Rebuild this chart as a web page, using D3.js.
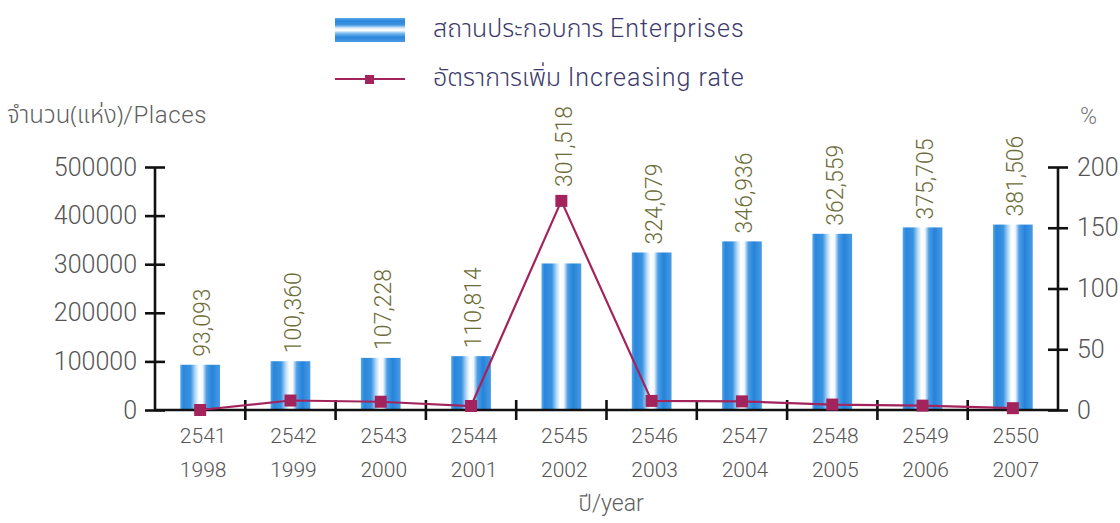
<!DOCTYPE html>
<html>
<head>
<meta charset="utf-8">
<script src="https://cdn.jsdelivr.net/npm/d3@7"></script>
<style>
  html, body { margin: 0; padding: 0; background: #ffffff; }
  svg { display: block; }
  text { font-family: Roboto, "Liberation Sans", Arial, "Noto Sans", sans-serif; font-weight: 300; }
  .thai { font-family: "Noto Sans Thai", "Noto Sans Thai UI", "Noto Sans", sans-serif; font-weight: 300; letter-spacing: 0; }
</style>
</head>
<body>
<svg id="chart" width="1120" height="523"></svg>
<script>
// Establishments by year (Buddhist era / Gregorian) and the yearly increase rate
const yearsBE = ["2541", "2542", "2543", "2544", "2545", "2546", "2547", "2548", "2549", "2550"];
const yearsCE = ["1998", "1999", "2000", "2001", "2002", "2003", "2004", "2005", "2006", "2007"];
const enterprises = [93093, 100360, 107228, 110814, 301518, 324079, 346936, 362559, 375705, 381506];
const increaseRate = [0, 7.8, 6.8, 3.3, 172.1, 7.5, 7.1, 4.5, 3.6, 1.5];
const leftTicks = [0, 100000, 200000, 300000, 400000, 500000];
const rightTicks = [0, 50, 100, 150, 200];

const svg = d3.select("#chart");
const plot = { left: 155, right: 1058, top: 167, bottom: 410 };

const x = d3.scaleBand()
  .domain(yearsCE)
  .range([plot.left, plot.right])
  .paddingInner(0.56)
  .paddingOuter(0.28);

const yLeft = d3.scaleLinear().domain([0, 500000]).range([plot.bottom, plot.top]);
const yRight = d3.scaleLinear().domain([0, 200]).range([plot.bottom, plot.top]);

// Bar fill: blue edges with a white highlight down the middle
const defs = svg.append("defs");
const grad = defs.append("linearGradient")
  .attr("id", "barFill").attr("x1", "0").attr("x2", "1").attr("y1", "0").attr("y2", "0");
[
  [0, "#5aa9ea"], [0.08, "#2a86dc"], [0.26, "#3a93e0"], [0.38, "#b5daf8"],
  [0.47, "#ffffff"], [0.56, "#f4f9fe"], [0.66, "#4c9de4"], [0.8, "#2583da"], [1, "#4a9be3"]
].forEach(([o, c]) => grad.append("stop").attr("offset", o).attr("stop-color", c));

const legendGrad = defs.append("linearGradient")
  .attr("id", "legendFill").attr("x1", "0").attr("x2", "0").attr("y1", "0").attr("y2", "1");
[
  [0, "#5aa9ea"], [0.12, "#2a86dc"], [0.28, "#3a93e0"], [0.42, "#dcedfc"],
  [0.52, "#ffffff"], [0.64, "#7ab9ee"], [0.8, "#2a86dc"], [1, "#4a9be3"]
].forEach(([o, c]) => legendGrad.append("stop").attr("offset", o).attr("stop-color", c));

// Bars
svg.append("g").selectAll("rect")
  .data(enterprises)
  .join("rect")
  .attr("x", (d, i) => x(yearsCE[i]))
  .attr("y", d => yLeft(d))
  .attr("width", x.bandwidth())
  .attr("height", d => yLeft(0) - yLeft(d))
  .attr("fill", "url(#barFill)");

// Axes
const axisColor = "#111111";
const tickLabelColor = "#555555";

const leftAxis = svg.append("g")
  .attr("transform", `translate(${plot.left},0)`)
  .call(d3.axisLeft(yLeft).tickValues(leftTicks).tickFormat(d3.format("d")).tickSize(10).tickPadding(8));
leftAxis.selectAll(".tick line").attr("x2", -10).attr("x1", 10);

const rightAxis = svg.append("g")
  .attr("transform", `translate(${plot.right},0)`)
  .call(d3.axisRight(yRight).tickValues(rightTicks).tickSize(10).tickPadding(9));
rightAxis.selectAll(".tick line").attr("x1", -10).attr("x2", 10);

const bottomAxis = svg.append("g")
  .attr("transform", `translate(0,${plot.bottom})`)
  .call(d3.axisBottom(x).tickSize(0).tickFormat(""));
// ticks between categories
const boundaries = yearsCE.slice(1).map(c => x(c) - x.step() * x.paddingInner() / 2);
bottomAxis.selectAll(".divider")
  .data(boundaries)
  .join("line")
  .attr("class", "divider")
  .attr("x1", d => d).attr("x2", d => d)
  .attr("y1", -10).attr("y2", 10);

[leftAxis, rightAxis, bottomAxis].forEach(g => {
  g.select(".domain").attr("stroke", axisColor).attr("stroke-width", 2.6);
  g.selectAll("line").attr("stroke", axisColor).attr("stroke-width", 2.6);
  g.selectAll(".tick text")
    .attr("fill", tickLabelColor)
    .attr("font-size", 25)
    .attr("font-family", "Roboto, 'Liberation Sans', Arial, sans-serif")
    .attr("font-weight", 300);
});
leftAxis.select(".domain").attr("d", `M0,${plot.top}V${plot.bottom}`);
rightAxis.select(".domain").attr("d", `M0,${plot.top}V${plot.bottom}`);
bottomAxis.select(".domain").attr("d", `M${plot.left},0H${plot.right}`);

// Two-line category labels
const catLabels = svg.append("g").selectAll("text")
  .data(yearsCE)
  .join("text")
  .attr("text-anchor", "middle")
  .attr("fill", tickLabelColor)
  .attr("font-size", 21);
catLabels.append("tspan").attr("x", d => x(d) + x.bandwidth() / 2 + 3).attr("y", 443)
  .text((d, i) => yearsBE[i]);
catLabels.append("tspan").attr("x", d => x(d) + x.bandwidth() / 2 + 3).attr("y", 477)
  .text(d => d);

// Increase-rate line with square markers
const line = d3.line()
  .x((d, i) => x(yearsCE[i]) + x.bandwidth() / 2)
  .y(d => yRight(d));
const rateColor = "#a3245c";
svg.append("path")
  .datum(increaseRate)
  .attr("d", line)
  .attr("fill", "none")
  .attr("stroke", rateColor)
  .attr("stroke-width", 2.2);
const ms = 12;
svg.append("g").selectAll("rect")
  .data(increaseRate)
  .join("rect")
  .attr("x", (d, i) => x(yearsCE[i]) + x.bandwidth() / 2 - ms / 2)
  .attr("y", d => yRight(d) - ms / 2)
  .attr("width", ms).attr("height", ms)
  .attr("fill", rateColor);

// Value labels, rotated, sitting above the bar (or above the marker when it is higher)
const fmt = d3.format(",");
svg.append("g").selectAll("text")
  .data(enterprises)
  .join("text")
  .attr("transform", (d, i) => {
    const cx = x(yearsCE[i]) + x.bandwidth() / 2 + 2;
    const top = Math.min(yLeft(d), yRight(increaseRate[i]) - ms / 2) - 8;
    return `translate(${cx},${top}) rotate(-90)`;
  })
  .attr("dy", "0.36em")
  .attr("fill", "#6c6c38")
  .attr("font-size", 23)
  .text(d => fmt(d));

// Text with a Thai part and a Latin part
function bilingual(sel, thai, latin, latinSpacing) {
  sel.append("tspan").attr("class", "thai").text(thai);
  sel.append("tspan").attr("letter-spacing", latinSpacing || 0).text(latin);
  return sel;
}

// Axis titles
bilingual(svg.append("text").attr("x", 7).attr("y", 123)
  .attr("fill", "#5e5e5e").attr("font-size", 24),
  "จำนวน(แห่ง)", "/Places", 0.6);
svg.append("text").attr("x", 1080).attr("y", 124)
  .attr("fill", "#777777").attr("font-size", 23)
  .text("%");
bilingual(svg.append("text").attr("x", 611).attr("y", 511).attr("text-anchor", "middle")
  .attr("fill", "#5e5e5e").attr("font-size", 23),
  "ปี", "/year");

// Legend
const legend = svg.append("g");
legend.append("rect").attr("x", 335).attr("y", 18).attr("width", 70).attr("height", 24)
  .attr("fill", "url(#legendFill)");
legend.append("line").attr("x1", 335).attr("x2", 405).attr("y1", 79).attr("y2", 79)
  .attr("stroke", rateColor).attr("stroke-width", 2);
legend.append("rect").attr("x", 365).attr("y", 75).attr("width", 9).attr("height", 9)
  .attr("fill", rateColor);
bilingual(legend.append("text").attr("x", 433).attr("y", 37)
  .attr("fill", "#3b3a6c").attr("font-size", 25),
  "สถานประกอบการ ", "Enterprises", 1);
bilingual(legend.append("text").attr("x", 433).attr("y", 86)
  .attr("fill", "#3b3a6c").attr("font-size", 25),
  "อัตราการเพิ่ม ", "Increasing rate", 1);
</script>
</body>
</html>
